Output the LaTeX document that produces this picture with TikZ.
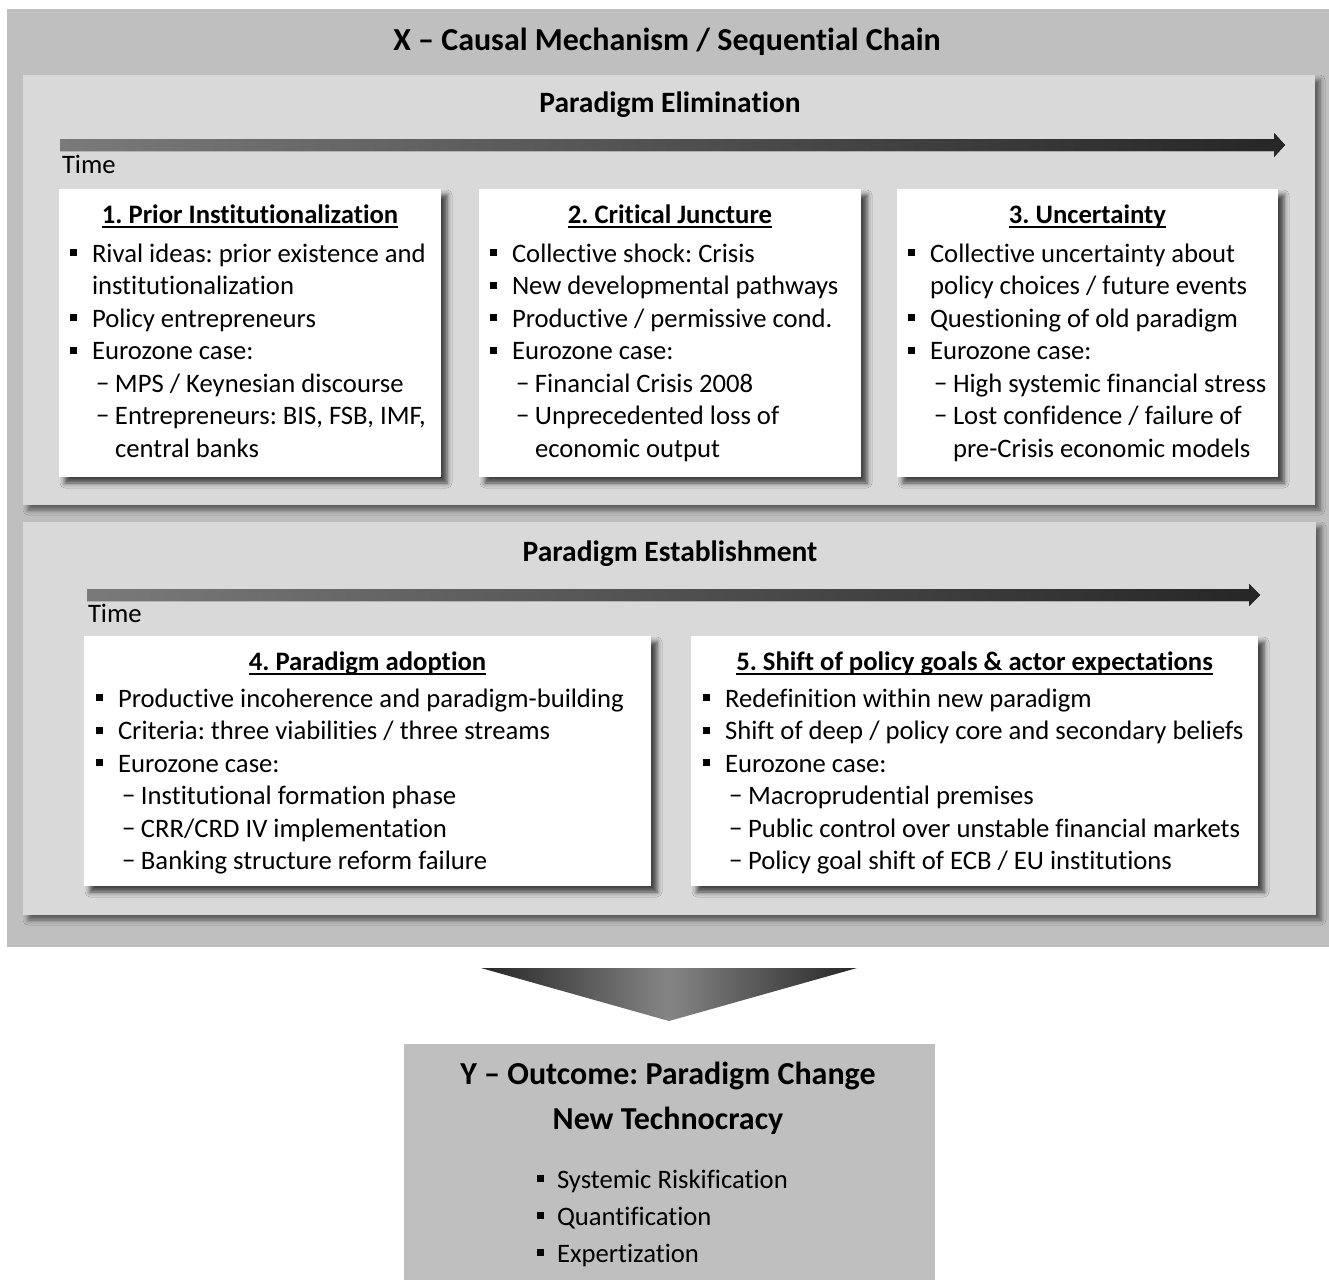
\documentclass[tikz,border=0pt]{standalone}
\usepackage{fontspec}
\setmainfont[Ligatures=NoCommon]{Carlito}
\usetikzlibrary{shadows.blur}
\frenchspacing

\definecolor{outergray}{HTML}{BFBFBF}
\definecolor{panelgray}{HTML}{D9D9D9}
\definecolor{arrowlight}{HTML}{7A7A7A}
\definecolor{arrowdark}{HTML}{262626}

% list helpers: square bullet, dash sub-item, continuation indents
\newcommand{\bitem}{\makebox[22pt][l]{\raisebox{6pt}{\rule{7pt}{7pt}}}}
\newcommand{\bcont}{\hspace*{22pt}}
\newcommand{\sitem}{\hspace*{26pt}\makebox[19pt][l]{−}}
\newcommand{\scont}{\hspace*{45pt}}
% heading underline at a fixed depth
\newcommand{\hdline}[1]{\setbox0\hbox{#1}\rlap{\rule[-5pt]{\wd0}{1.8pt}}\box0}
\newcommand{\boxtext}[1]{\parbox[t]{700pt}{\raggedright #1}}

\begin{document}
\begin{tikzpicture}[x=1pt,y=-1pt,
  every node/.style={inner sep=0pt, outer sep=0pt},
  frame/.style={fill=outergray, anchor=north west},
  panel/.style={fill=panelgray, anchor=north west,
    blur shadow={shadow xshift=5pt, shadow yshift=-5pt, shadow blur radius=5pt, shadow opacity=55}},
  stepcard/.style={fill=white, anchor=north west,
    blur shadow={shadow xshift=6pt, shadow yshift=-6pt, shadow blur radius=5pt, shadow opacity=70}},
  title/.style={font=\bfseries\fontsize{32}{38}\selectfont, anchor=base},
  phase/.style={font=\bfseries\fontsize{29.5}{35}\selectfont, anchor=base},
  cardhead/.style={font=\bfseries\fontsize{26.67}{32}\selectfont, anchor=base},
  cardbody/.style={font=\fontsize{26.67}{32.5}\selectfont, anchor=base west},
  timelabel/.style={font=\fontsize{26.67}{32}\selectfont, anchor=base west},
  timeshade/.style={left color=arrowlight, right color=arrowdark}
]
\useasboundingbox (0,0) rectangle (1329,1279);
\fill[white] (0,0) rectangle (1329,1279);

% outer frame
\node[frame, minimum width=1330, minimum height=938] (outer) at (7,9) {};
\node[title] (xtitle) at (667,51) {X – Causal Mechanism / Sequential Chain};

% ---- Paradigm elimination ----
\node[panel, minimum width=1292, minimum height=430] (elim) at (23,75) {};
\node[phase] (elimtitle) at (670,113) {Paradigm Elimination};
\fill[timeshade] (60,139) -- (1274,139) -- (1274,133) -- (1285,145)
  -- (1274,157) -- (1274,151) -- (60,151) -- cycle;
\node[timelabel] (time1) at (62,173) {Time};

\node[stepcard, minimum width=382, minimum height=288] (b1) at (59,189) {};
\node[stepcard, minimum width=382, minimum height=288] (b2) at (479,189) {};
\node[stepcard, minimum width=381, minimum height=288] (b3) at (897,189) {};

\node[cardhead] (h1) at (b1.north |- 0,223) {\hdline{1. Prior Institutionalization}};
\node[cardhead] (h2) at (b2.north |- 0,223) {\hdline{2. Critical Juncture}};
\node[cardhead] (h3) at (b3.north |- 0,223) {\hdline{3. Uncertainty}};

\node[cardbody] (t1) at (70,262) {\boxtext{%
\bitem Rival ideas: prior existence and\\
\bcont institutionalization\\
\bitem Policy entrepreneurs\\
\bitem Eurozone case:\\
\sitem MPS / Keynesian discourse\\
\sitem Entrepreneurs: BIS, FSB, IMF,\\
\scont central banks}};

\node[cardbody] (t2) at (490,262) {\boxtext{%
\bitem Collective shock: Crisis\\
\bitem New developmental pathways\\
\bitem Productive / permissive cond.\\
\bitem Eurozone case:\\
\sitem Financial Crisis 2008\\
\sitem Unprecedented loss of\\
\scont economic output}};

\node[cardbody] (t3) at (908,262) {\boxtext{%
\bitem Collective uncertainty about\\
\bcont policy choices / future events\\
\bitem Questioning of old paradigm\\
\bitem Eurozone case:\\
\sitem High systemic financial stress\\
\sitem Lost confidence / failure of\\
\scont pre-Crisis economic models}};

% ---- Paradigm establishment ----
\node[panel, minimum width=1293, minimum height=393] (estab) at (23,522) {};
\node[phase] (estabtitle) at (670,561) {Paradigm Establishment};
\fill[timeshade] (87,589) -- (1249,589) -- (1249,584) -- (1260,595)
  -- (1249,606) -- (1249,601) -- (87,601) -- cycle;
\node[timelabel] (time2) at (88,622) {Time};

\node[stepcard, minimum width=567, minimum height=250] (b4) at (84,636) {};
\node[stepcard, minimum width=567, minimum height=250] (b5) at (691,636) {};

\node[cardhead] (h4) at (b4.north |- 0,670) {\hdline{4. Paradigm adoption}};
\node[cardhead] (h5) at (b5.north |- 0,670) {\hdline{5. Shift of policy goals \& actor expectations}};

\node[cardbody] (t4) at (96,707) {\boxtext{%
\bitem Productive incoherence and paradigm-building\\
\bitem Criteria: three viabilities / three streams\\
\bitem Eurozone case:\\
\sitem Institutional formation phase\\
\sitem CRR/CRD IV implementation\\
\sitem Banking structure reform failure}};

\node[cardbody] (t5) at (703,707) {\boxtext{%
\bitem Redefinition within new paradigm\\
\bitem Shift of deep / policy core and secondary beliefs\\
\bitem Eurozone case:\\
\sitem Macroprudential premises\\
\sitem Public control over unstable financial markets\\
\sitem Policy goal shift of ECB / EU institutions}};

% ---- transition to the outcome ----
\shade[left color=arrowdark, right color=arrowdark, middle color=black!48]
  (481,968) -- (857,968) -- (669,1021) -- cycle;

\node[frame, minimum width=531, minimum height=240] (outcome) at (404,1044) {};
\node[title] (ytitle) at (668,1084) {Y – Outcome: Paradigm Change};
\node[title] (ysub) at (668,1129) {New Technocracy};
\node[cardbody, font=\fontsize{26.67}{37}\selectfont] (ylist) at (537,1188) {\boxtext{%
\makebox[20pt][l]{\raisebox{6pt}{\rule{7pt}{7pt}}}Systemic Riskification\\
\makebox[20pt][l]{\raisebox{6pt}{\rule{7pt}{7pt}}}Quantification\\
\makebox[20pt][l]{\raisebox{6pt}{\rule{7pt}{7pt}}}Expertization}};
\end{tikzpicture}
\end{document}
